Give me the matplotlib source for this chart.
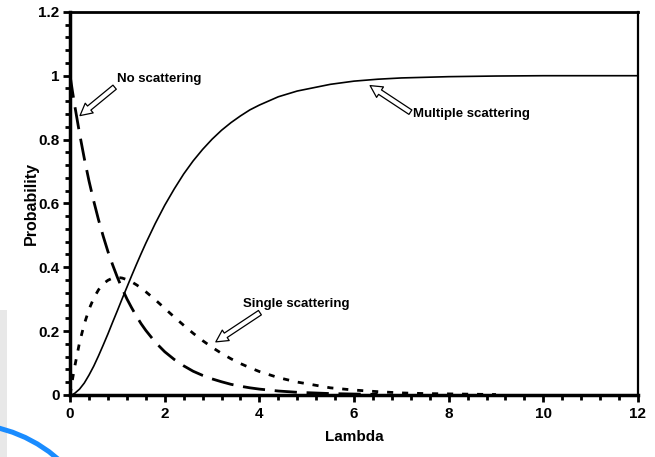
import matplotlib
matplotlib.use("Agg")
import matplotlib.pyplot as plt
from matplotlib.patches import Arc, Rectangle
from matplotlib.transforms import IdentityTransform
from matplotlib.ticker import MultipleLocator

plt.rcParams['font.family'] = ['Liberation Sans', 'DejaVu Sans']

# Lambda sample points
lam = [0, 0.05, 0.1, 0.2, 0.3, 0.4, 0.5, 0.6, 0.7, 0.8, 0.9, 1.0, 1.1, 1.2, 1.3,
       1.4, 1.5, 1.6, 1.8, 2.0, 2.2, 2.4, 2.6, 2.8, 3.0, 3.2, 3.4, 3.6, 3.8,
       4.0, 4.4, 4.8, 5.5, 6.0, 6.5, 7.0, 7.5, 8.0, 9.0, 10.0, 12.0]
no_scatter = [1.0, 0.951, 0.905, 0.819, 0.741, 0.670, 0.607, 0.549, 0.497, 0.449,
              0.407, 0.368, 0.333, 0.301, 0.273, 0.247, 0.223, 0.202, 0.165,
              0.135, 0.111, 0.091, 0.074, 0.061, 0.050, 0.041, 0.033, 0.027,
              0.022, 0.018, 0.012, 0.008, 0.004, 0.0025, 0.0015, 0.0009, 0.0006,
              0.0003, 0.0001, 0.0, 0.0]
single = [0.0, 0.048, 0.090, 0.164, 0.222, 0.268, 0.303, 0.329, 0.348, 0.359,
          0.366, 0.368, 0.366, 0.361, 0.354, 0.345, 0.335, 0.323, 0.298, 0.271,
          0.244, 0.218, 0.193, 0.170, 0.149, 0.130, 0.113, 0.098, 0.085, 0.073,
          0.054, 0.040, 0.022, 0.015, 0.010, 0.006, 0.004, 0.003, 0.001, 0.0, 0.0]
multiple = [0.0, 0.001, 0.005, 0.018, 0.037, 0.062, 0.090, 0.122, 0.156, 0.191,
            0.228, 0.264, 0.301, 0.337, 0.373, 0.408, 0.442, 0.475, 0.537, 0.594,
            0.645, 0.692, 0.733, 0.769, 0.801, 0.829, 0.853, 0.874, 0.893, 0.908,
            0.934, 0.952, 0.973, 0.983, 0.989, 0.993, 0.995, 0.997, 0.999, 1.0,
            1.0]

x_ticks = [0, 2, 4, 6, 8, 10, 12]
y_ticks = [0, 0.2, 0.4, 0.6, 0.8, 1.0, 1.2]
y_tick_labels = ['0', '0.2', '0.4', '0.6', '0.8', '1', '1.2']

fig = plt.figure(figsize=(6.55, 4.57), dpi=100)
ax = fig.add_axes([0.107, 0.136, 0.867, 0.838])

n_end = lam.index(6.5) + 1
s_end = lam.index(9.0) + 1
ax.plot(lam[:n_end], no_scatter[:n_end], color='black', lw=2.0,
        dashes=(8, 3.5), solid_capstyle='butt', dash_capstyle='butt')
ax.plot(lam[:s_end], single[:s_end], color='black', lw=2.0,
        dashes=(2.2, 3.2), dash_capstyle='butt')
ax.plot(lam, multiple, color='black', lw=1.2)

ax.set_xlim(0, 12)
ax.set_ylim(0, 1.2)
ax.set_xticks(x_ticks)
ax.set_xticklabels([str(v) for v in x_ticks])
ax.set_yticks(y_ticks)
ax.set_yticklabels(y_tick_labels)
ax.xaxis.set_minor_locator(MultipleLocator(0.4))
ax.yaxis.set_minor_locator(MultipleLocator(0.04))
ax.tick_params(which='major', direction='out', length=5, width=2.0,
               labelsize=11, pad=4)
ax.tick_params(axis='y', which='major', pad=2.5)
ax.tick_params(which='minor', direction='out', length=3.5, width=2.0)
for lab in ax.get_xticklabels() + ax.get_yticklabels():
    lab.set_fontweight('bold')

ax.spines['left'].set_linewidth(2.5)
ax.spines['bottom'].set_linewidth(2.5)
ax.spines['top'].set_linewidth(2.0)
ax.spines['right'].set_linewidth(1.6)

ax.set_xlabel('Lambda', fontsize=11, fontweight='bold', labelpad=6)
ax.set_ylabel('Probability', fontsize=11.5, fontweight='bold', labelpad=0)

arrow = dict(arrowstyle='simple,head_length=0.9,head_width=0.95,tail_width=0.4',
             fc='white', ec='black', lw=0.9, shrinkA=0, shrinkB=0)
ax.annotate('No scattering', xy=(0.21, 0.875), xytext=(1.0, 0.99),
            fontsize=9.5, fontweight='bold', va='center', ha='left',
            arrowprops=dict(arrow, relpos=(0.0, 0.0)))
ax.annotate('Multiple scattering', xy=(6.34, 0.969), xytext=(7.25, 0.88),
            fontsize=9.5, fontweight='bold', va='center', ha='left',
            arrowprops=dict(arrow, relpos=(0.0, 0.5)))
ax.annotate('Single scattering', xy=(3.08, 0.166), xytext=(3.65, 0.285),
            fontsize=9.5, fontweight='bold', va='center', ha='left',
            arrowprops=dict(arrow, relpos=(0.2, 0.0)))

# screenshot artifacts
fig.add_artist(Rectangle((0, 0), 7, 147, transform=IdentityTransform(),
                         facecolor='#e8e8e8', edgecolor='none', zorder=-1))
fig.add_artist(Arc((-35, -108), 282, 282, theta1=0, theta2=90,
                   transform=IdentityTransform(), color='#1a8cff', lw=3.6))

fig.savefig('out.png', dpi=100)
